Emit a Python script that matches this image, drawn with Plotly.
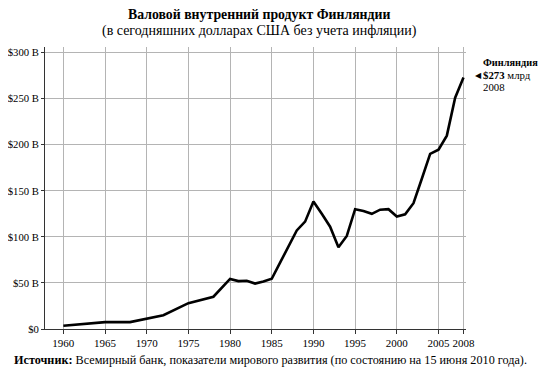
import plotly.graph_objects as go

years = [1960, 1965, 1968, 1970, 1972, 1975, 1978, 1980, 1981, 1982, 1983, 1984, 1985,
         1986, 1987, 1988, 1989, 1990, 1991, 1992, 1993, 1994, 1995, 1996, 1997, 1998,
         1999, 2000, 2001, 2002, 2003, 2004, 2005, 2006, 2007, 2008]
gdp = [3.5, 7.5, 7.5, 11.6, 15.0, 28.0, 35.0, 54.3, 52.0, 52.3, 49.3, 51.5, 54.5,
       72.0, 90.0, 107.0, 116.5, 138.4, 125.0, 111.0, 88.8, 101.0, 130.0, 128.0, 125.0, 129.5,
       130.0, 122.0, 124.5, 136.5, 163.0, 190.0, 194.6, 209.8, 251.0, 273.0]

x_ticks = [1960, 1965, 1970, 1975, 1980, 1985, 1990, 1995, 2000, 2005, 2008]
y_ticks = [0, 50, 100, 150, 200, 250, 300]
y_labels = ["$0", "$50 B", "$100 B", "$150 B", "$200 B", "$250 B", "$300 B"]

FONT = "Liberation Serif"

# page has an 8px body margin: figure is 542x368 placed at (8, 8)
OFF = 8
W, H = 550 - OFF, 376 - OFF
L, R, T, B = 45, 466, 47, 329  # plot area in page pixels

fig = go.Figure()
fig.add_trace(go.Scatter(x=years, y=gdp, mode="lines",
                         line=dict(color="black", width=2.6), hoverinfo="x+y"))

fig.update_layout(
    width=W, height=H,
    margin=dict(l=L - OFF, r=550 - R, t=T - OFF, b=376 - B),
    paper_bgcolor="white", plot_bgcolor="white",
    showlegend=False,
    font=dict(family=FONT, size=11, color="black"),
    xaxis=dict(range=[1957.8, 2008.3], tickvals=x_ticks, ticktext=[str(v) for v in x_ticks],
               tickangle=0, automargin=False,
               showgrid=True, gridcolor="#b4b4b4", gridwidth=1,
               showline=True, linecolor="#333", linewidth=1,
               ticks="outside", ticklen=4, tickcolor="#333", zeroline=False,
               tickfont=dict(family=FONT, size=11)),
    yaxis=dict(range=[0, 306], tickvals=y_ticks, ticktext=y_labels, automargin=False,
               showgrid=True, gridcolor="#b4b4b4", gridwidth=1,
               showline=True, linecolor="#333", linewidth=1,
               ticks="outside", ticklen=3, tickcolor="#333", zeroline=False,
               tickfont=dict(family=FONT, size=10.7)),
)

def py(pix):
    return (B - pix) / (B - T)

def px(pix):
    return (pix - L) / (R - L)

fig.add_annotation(text="<b>Валовой внутренний продукт Финляндии</b>", xref="paper", yref="paper",
                   x=px(259), y=py(14.5), xanchor="center", yanchor="middle", showarrow=False,
                   font=dict(family=FONT, size=13.8, color="black"))
fig.add_annotation(text="(в сегодняшних долларах США без учета инфляции)", xref="paper", yref="paper",
                   x=px(259), y=py(31), xanchor="center", yanchor="middle", showarrow=False,
                   font=dict(family=FONT, size=14, color="black"))

fig.add_annotation(text="<b>Финляндия</b>", xref="paper", yref="paper", x=px(481), y=py(62),
                   xanchor="left", yanchor="middle", showarrow=False,
                   font=dict(family=FONT, size=10.3, color="black"))
fig.add_annotation(text="◀", xref="paper", yref="paper", x=px(473), y=py(75),
                   xanchor="left", yanchor="middle", showarrow=False,
                   font=dict(family="DejaVu Sans", size=8, color="black"))
fig.add_annotation(text="<b>$273</b> млрд", xref="paper", yref="paper", x=px(481), y=py(75),
                   xanchor="left", yanchor="middle", showarrow=False,
                   font=dict(family=FONT, size=10.8, color="black"))
fig.add_annotation(text="2008", xref="paper", yref="paper", x=px(481), y=py(87),
                   xanchor="left", yanchor="middle", showarrow=False,
                   font=dict(family=FONT, size=10.8, color="black"))

fig.add_annotation(text="<b>Источник:</b> Всемирный банк, показатели мирового развития (по состоянию на 15 июня 2010 года).",
                   xref="paper", yref="paper", x=px(270), y=py(360),
                   xanchor="center", yanchor="middle", showarrow=False,
                   font=dict(family=FONT, size=12.2, color="black"))

fig.write_html("out.html")
